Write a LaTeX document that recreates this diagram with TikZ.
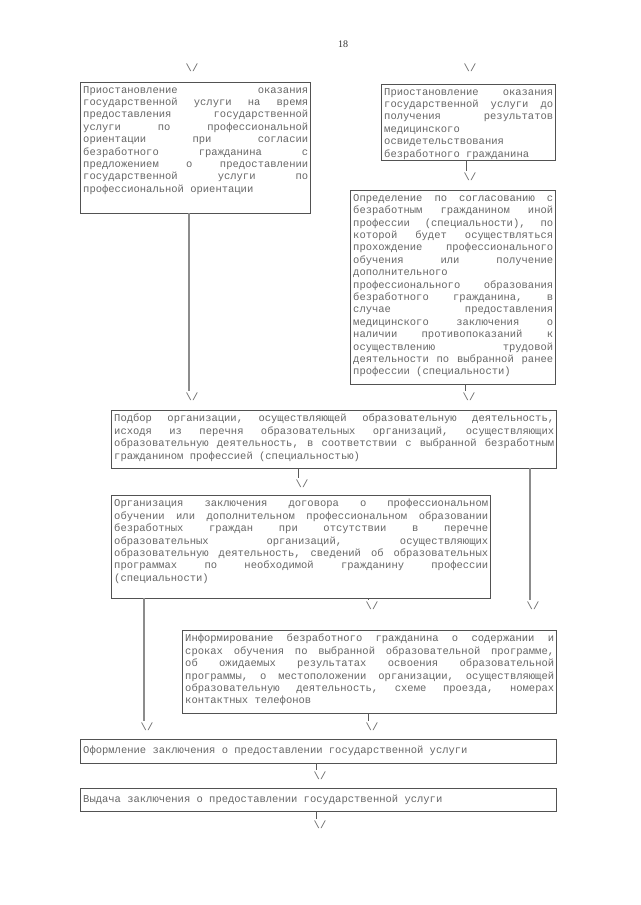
\documentclass[tikz,border=0pt]{standalone}
\usepackage{fontspec}
\setmainfont{Liberation Serif}
\newfontfamily\cour{Liberation Mono}
\newcommand\jl[1]{\hbox to\hsize{\frenchspacing\spaceskip=\fontdimen2\font plus 1fil\relax#1}}
\newcommand\lastl[1]{\hbox{\frenchspacing#1}}
\begin{document}
\begin{tikzpicture}[x=1pt,y=-1pt,
  box/.style={draw=black!68, line width=0.7pt, anchor=north west, inner sep=0pt, outer sep=0pt},
  txt/.style={anchor=north west, inner sep=0pt, text=black!60, font=\cour\fontsize{10.5pt}{12.4pt}\selectfont},
  arr/.style={inner sep=0pt, text=black!60, font=\cour\fontsize{10.5pt}{12.4pt}\selectfont},
  con/.style={draw=black!45, line width=1.6pt},
  stub/.style={draw=black!65, line width=0.8pt}]
\useasboundingbox (0,0) rectangle (640,905);

\node[font=\fontsize{10pt}{12pt}\selectfont, text=black!80] (pg) at (343,44) {18};

% boxes
\node[box, minimum width=230pt, minimum height=131pt] (A) at (80,82) {};
\node[box, minimum width=174pt, minimum height=76pt] (B) at (381,84) {};
\node[box, minimum width=205pt, minimum height=194pt] (C) at (350,190) {};
\node[box, minimum width=445pt, minimum height=58pt] (D) at (111,410) {};
\node[box, minimum width=379pt, minimum height=103pt] (E) at (111,495) {};
\node[box, minimum width=374pt, minimum height=83pt] (F) at (182,630) {};
\node[box, minimum width=476pt, minimum height=24pt] (G) at (80,739) {};
\node[box, minimum width=476pt, minimum height=23pt] (H) at (80,788) {};

% texts
\node[txt] (At) at ([shift={(3pt,-4pt)}]A.north west) {\vbox{\hsize=225pt
\jl{Приостановление оказания}
\jl{государственной услуги на время}
\jl{предоставления государственной}
\jl{услуги по профессиональной}
\jl{ориентации при согласии}
\jl{безработного гражданина с}
\jl{предложением о предоставлении}
\jl{государственной услуги по}
\lastl{профессиональной ориентации}}};

\node[txt] (Bt) at ([shift={(3pt,-4pt)}]B.north west) {\vbox{\hsize=169pt
\jl{Приостановление оказания}
\jl{государственной услуги до}
\jl{получения результатов}
\lastl{медицинского}
\lastl{освидетельствования}
\lastl{безработного гражданина}}};

\node[txt] (Ct) at ([shift={(3pt,-4pt)}]C.north west) {\vbox{\hsize=200pt
\jl{Определение по согласованию с}
\jl{безработным гражданином иной}
\jl{профессии (специальности), по}
\jl{которой будет осуществляться}
\jl{прохождение профессионального}
\jl{обучения или получение}
\lastl{дополнительного}
\jl{профессионального образования}
\jl{безработного гражданина, в}
\jl{случае предоставления}
\jl{медицинского заключения о}
\jl{наличии противопоказаний к}
\jl{осуществлению трудовой}
\jl{деятельности по выбранной ранее}
\lastl{профессии (специальности)}}};

\node[txt] (Dt) at ([shift={(3pt,-4pt)}]D.north west) {\vbox{\hsize=440pt
\jl{Подбор организации, осуществляющей образовательную деятельность,}
\jl{исходя из перечня образовательных организаций, осуществляющих}
\jl{образовательную деятельность, в соответствии с выбранной безработным}
\lastl{гражданином профессией (специальностью)}}};

\node[txt] (Et) at ([shift={(3pt,-4pt)}]E.north west) {\vbox{\hsize=374pt
\jl{Организация заключения договора о профессиональном}
\jl{обучении или дополнительном профессиональном образовании}
\jl{безработных граждан при отсутствии в перечне}
\jl{образовательных организаций, осуществляющих}
\jl{образовательную деятельность, сведений об образовательных}
\jl{программах по необходимой гражданину профессии}
\lastl{(специальности)}}};

\node[txt] (Ft) at ([shift={(3pt,-4pt)}]F.north west) {\vbox{\hsize=369pt
\jl{Информирование безработного гражданина о содержании и}
\jl{сроках обучения по выбранной образовательной программе,}
\jl{об ожидаемых результатах освоения образовательной}
\jl{программы, о местоположении организации, осуществляющей}
\jl{образовательную деятельность, схеме проезда, номерах}
\lastl{контактных телефонов}}};

\node[txt] (Gt) at ([shift={(3pt,-7pt)}]G.north west) {\lastl{Оформление заключения о предоставлении государственной услуги}};
\node[txt] (Ht) at ([shift={(3pt,-7pt)}]H.north west) {\lastl{Выдача заключения о предоставлении государственной услуги}};

% arrow glyphs
\node[arr] (t1) at (192,68) {\textbackslash/};
\node[arr] (t2) at (470,68) {\textbackslash/};
\node[arr] (b1) at (470,177) {\textbackslash/};
\node[arr] (a1) at (192,397) {\textbackslash/};
\node[arr] (c1) at (469,397) {\textbackslash/};
\node[arr] (d1) at (302,484) {\textbackslash/};
\node[arr] (d2) at (533,606) {\textbackslash/};
\node[arr] (e1) at (372,606) {\textbackslash/};
\node[arr] (e2) at (147,727) {\textbackslash/};
\node[arr] (f1) at (372,727) {\textbackslash/};
\node[arr] (g1) at (320,776) {\textbackslash/};
\node[arr] (h1) at (320,825) {\textbackslash/};

% connector ends
\foreach \n in {b1,a1,c1,d1,d2,e1,e2,f1,g1,h1}
  \coordinate (\n s) at ([shift={(-3.15pt,2pt)}]\n.north);

\draw[con] (a1s |- A.south) -- (a1s);
\draw[con] (d2s |- D.south) -- (d2s);
\draw[con] (e2s |- E.south) -- (e2s);
\draw[stub] (b1s |- B.south) -- (b1s);
\draw[stub] (c1s |- C.south) -- (c1s);
\draw[stub] (d1s |- D.south) -- (d1s);
\draw[stub] (e1s |- E.south) -- (e1s);
\draw[stub] (f1s |- F.south) -- (f1s);
\draw[stub] (g1s |- G.south) -- (g1s);
\draw[stub] (h1s |- H.south) -- (h1s);
\end{tikzpicture}
\end{document}
